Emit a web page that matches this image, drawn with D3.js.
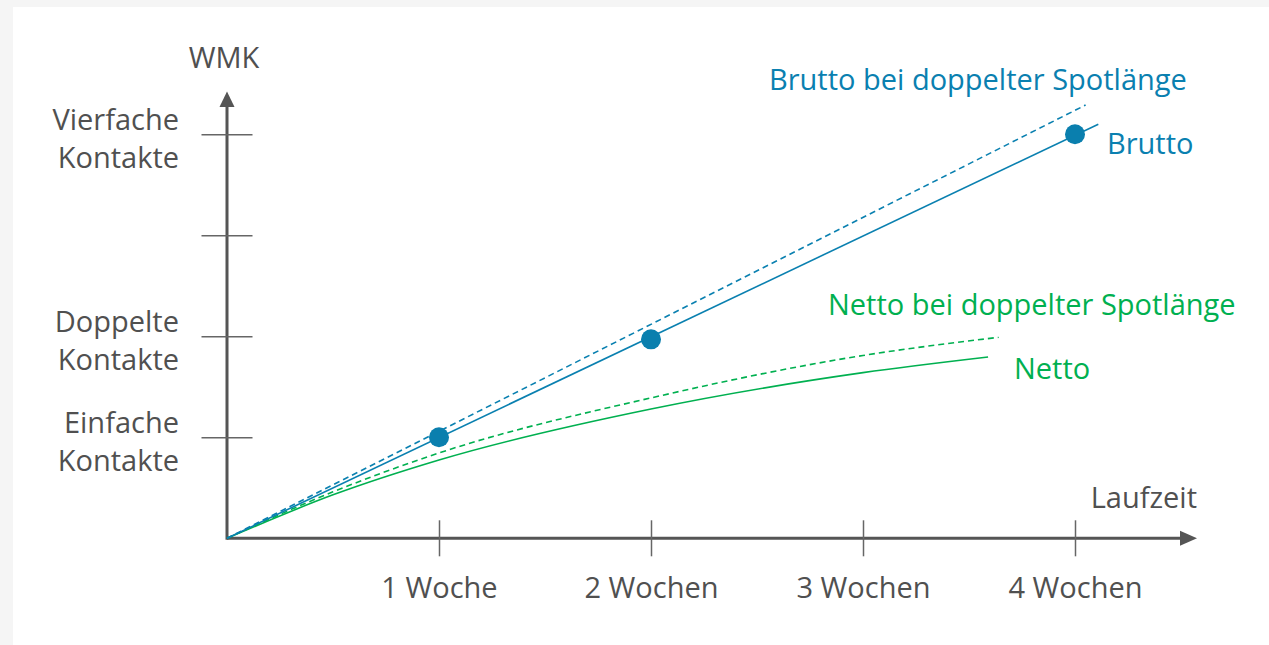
<!DOCTYPE html>
<html><head><meta charset="utf-8">
<script src="https://cdn.jsdelivr.net/npm/d3@7"></script>
<style>html,body{margin:0;padding:0;background:#f5f5f5;}svg{display:block;}</style>
</head><body>
<svg id="c" width="1269" height="645"></svg>
<script>
// ---- data ----
const xTickValues = [1, 2, 3, 4];
const xTickLabels = ["1 Woche", "2 Wochen", "3 Wochen", "4 Wochen"];
const yTickValues = [1, 2, 3, 4];
const yTickLabels = [["Einfache", "Kontakte"], ["Doppelte", "Kontakte"], [], ["Vierfache", "Kontakte"]];
const bruttoWeeks = [0, 4.11];
const bruttoValues = [0, 4.10];
const bruttoDotWeeks = [1, 2, 4];
const bruttoDotValues = [1.0, 1.97, 4.0];
const bruttoDoubleWeeks = [0, 4.05];
const bruttoDoubleValues = [0, 4.29];
const nettoWeeks = [0, 0.5, 1, 2, 3, 3.59];
const nettoValues = [0, 0.43, 0.775, 1.28, 1.64, 1.795];
const nettoDoubleWeeks = [0, 0.5, 1, 2, 3, 3.64];
const nettoDoubleValues = [0, 0.46, 0.845, 1.39, 1.81, 1.99];
const xAxisTitle = "Laufzeit";
const yAxisTitle = "WMK";

// ---- setup ----
const svg = d3.select("#c");
const FONT = "'Open Sans', 'Noto Sans', sans-serif";
const FS = "29px";
const AX = "#555555", TXT = "#505050";
const BLUE = "#0a80b0", GREEN = "#00b050";

svg.append("rect").attr("x", 13).attr("y", 7).attr("width", 1256).attr("height", 638).attr("fill", "#ffffff");

const x = d3.scaleLinear().domain([0, 4]).range([227, 1075]);
const y = d3.scaleLinear().domain([0, 4]).range([538.3, 134.3]);

const g = svg.append("g");

// axes lines
g.append("line").attr("x1", x(0)).attr("x2", 1182).attr("y1", y(0)).attr("y2", y(0))
  .attr("stroke", AX).attr("stroke-width", 3);
g.append("path").attr("d", `M1197,${y(0)} L1180,${y(0)-7.5} L1180,${y(0)+7.5} Z`).attr("fill", AX);
g.append("line").attr("x1", x(0)).attr("x2", x(0)).attr("y1", y(0)+1.5).attr("y2", 105)
  .attr("stroke", AX).attr("stroke-width", 3);
g.append("path").attr("d", `M${x(0)},91.5 L${x(0)-7.5},107 L${x(0)+7.5},107 Z`).attr("fill", AX);

// x ticks via d3 axis
const xAxis = d3.axisBottom(x).tickValues(xTickValues).tickSize(0).tickFormat((d, i) => xTickLabels[i]);
const xa = g.append("g").attr("transform", `translate(0,${y(0)})`).call(xAxis);
xa.select(".domain").remove();
xa.selectAll(".tick line").remove();
xa.selectAll(".tick").append("line").attr("y1", -18).attr("y2", 18).attr("stroke", "#666").attr("stroke-width", 1.5);
xa.selectAll(".tick text").attr("y", 60).attr("dy", 0).attr("fill", TXT)
  .style("font-family", FONT).style("font-size", FS);

// y ticks via d3 axis
const yAxis = d3.axisLeft(y).tickValues(yTickValues).tickSize(0).tickFormat("");
const ya = g.append("g").attr("transform", `translate(${x(0)},0)`).call(yAxis);
ya.select(".domain").remove();
ya.selectAll(".tick line").remove();
ya.selectAll(".tick text").remove();
ya.selectAll(".tick").append("line").attr("x1", -25.5).attr("x2", 25.5).attr("stroke", "#666").attr("stroke-width", 1.5);
ya.selectAll(".tick").each(function(d, i) {
  const t = d3.select(this).append("text").attr("text-anchor", "end").attr("fill", TXT)
    .style("font-family", FONT).style("font-size", FS);
  yTickLabels[i].forEach((s, j) => {
    t.append("tspan").attr("x", -48).attr("y", j === 0 ? -5 : 33).text(s);
  });
});

// axis titles
g.append("text").attr("x", 224).attr("y", 68).attr("text-anchor", "middle").attr("fill", TXT)
  .style("font-family", FONT).style("font-size", FS).text(yAxisTitle);
g.append("text").attr("x", 1197).attr("y", 508).attr("text-anchor", "end").attr("fill", TXT)
  .style("font-family", FONT).style("font-size", FS).text(xAxisTitle);

// series
const line = d3.line().x(d => x(d[0])).y(d => y(d[1])).curve(d3.curveMonotoneX);
const zip = (a, b) => a.map((v, i) => [v, b[i]]);

g.append("path").datum(zip(nettoDoubleWeeks, nettoDoubleValues)).attr("d", line)
  .attr("fill", "none").attr("stroke", GREEN).attr("stroke-width", 1.6).attr("stroke-dasharray", "6,4");
g.append("path").datum(zip(nettoWeeks, nettoValues)).attr("d", line)
  .attr("fill", "none").attr("stroke", GREEN).attr("stroke-width", 1.6);
g.append("path").datum(zip(bruttoDoubleWeeks, bruttoDoubleValues)).attr("d", line)
  .attr("fill", "none").attr("stroke", BLUE).attr("stroke-width", 1.6).attr("stroke-dasharray", "6,4");
g.append("path").datum(zip(bruttoWeeks, bruttoValues)).attr("d", line)
  .attr("fill", "none").attr("stroke", BLUE).attr("stroke-width", 1.6);
g.selectAll("circle.dot").data(zip(bruttoDotWeeks, bruttoDotValues)).join("circle")
  .attr("class", "dot").attr("cx", d => x(d[0])).attr("cy", d => y(d[1])).attr("r", 10).attr("fill", "#0a7fae");

// series labels
const lab = (t, xx, yy, c) => g.append("text").attr("x", xx).attr("y", yy).attr("fill", c)
  .style("font-family", FONT).style("font-size", FS).text(t);
lab("Brutto bei doppelter Spotlänge", 769, 90, BLUE);
lab("Brutto", 1107, 154, BLUE);
lab("Netto bei doppelter Spotlänge", 828, 315, GREEN);
lab("Netto", 1014, 379, GREEN);
</script>
</body></html>
